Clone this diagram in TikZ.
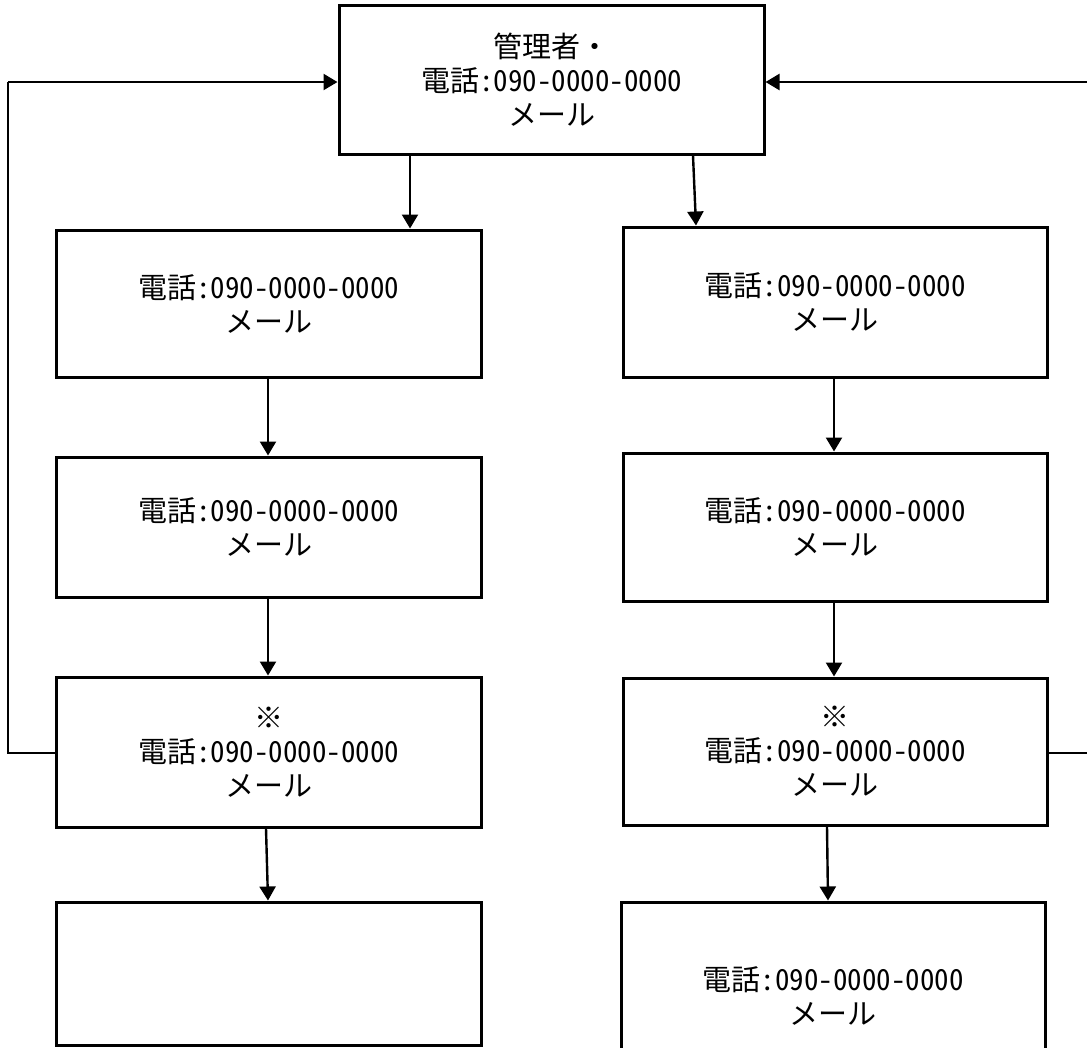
\documentclass[tikz,border=0pt]{standalone}
\usepackage{fontspec}
\newfontfamily\jpfont[RawFeature=+hwid]{Noto Sans CJK JP}
\usetikzlibrary{arrows.meta}
\tikzset{
  box/.style={draw, line width=3pt, minimum width=#1, inner sep=0pt,
    align=center, font=\jpfont\fontsize{29}{34}\selectfont},
  arr/.style={line width=2.4pt, -{Triangle[width=16pt,length=14pt]}},
  link/.style={line width=2.8pt}
}
\begin{document}
\begin{tikzpicture}[x=1pt,y=-1pt]
  \useasboundingbox (0,0) rectangle (1087,1047);
  \clip (0,0) rectangle (1087,1047);
  % manager
  \node[box=425pt, minimum height=149pt] (top) at (551.5,79.5)
    {管理者・\\電話:090-0000-0000\\メール};
  % left chain
  \node[box=425pt, minimum height=147pt] (L1) at (268.5,303.5) {電話:090-0000-0000\\メール};
  \node[box=425pt, minimum height=140pt] (L2) at (268.5,527) {電話:090-0000-0000\\メール};
  \node[box=425pt, minimum height=150pt] (L3) at (268.5,752) {※\\電話:090-0000-0000\\メール};
  \node[box=425pt, minimum height=143pt] (L4) at (268.5,973.5) {};
  % right chain
  \node[box=424pt, minimum height=150pt] (R1) at (835,302) {電話:090-0000-0000\\メール};
  \node[box=424pt, minimum height=148pt] (R2) at (835,527) {電話:090-0000-0000\\メール};
  \node[box=424pt, minimum height=147pt] (R3) at (835,751.5) {※\\電話:090-0000-0000\\メール};
  \node[box=424pt, minimum height=188pt] (R4) at (833,996) {電話:090-0000-0000\\メール};
  % downward arrows
  \draw[arr] (top.south -| 410,0) -- (L1.north -| 410,0);
  \draw[arr] (L1.south -| 268,0) -- (L2.north -| 268,0);
  \draw[arr] (L2.south -| 268,0) -- (L3.north -| 268,0);
  \draw[arr] (L3.south -| 266,0) -- (L4.north -| 268,0);
  \draw[arr] (top.south -| 693,0) -- (R1.north -| 696,0);
  \draw[arr] (R1.south -| 834,0) -- (R2.north -| 834,0);
  \draw[arr] (R2.south -| 834,0) -- (R3.north -| 834,0);
  \draw[arr] (R3.south -| 827,0) -- (R4.north -| 828,0);
  % feedback loops to the manager
  \coordinate (lc) at (8,753);
  \coordinate (rc) at (1110,753);
  \draw[link] (L3.west |- lc) -- (lc) -- (8,82);
  \draw[arr] (8,82) -- (top.west |- 0,82);
  \draw[link] (R3.east |- rc) -- (rc) -- (1110,82);
  \draw[arr] (1110,82) -- (top.east |- 0,82);
\end{tikzpicture}
\end{document}
